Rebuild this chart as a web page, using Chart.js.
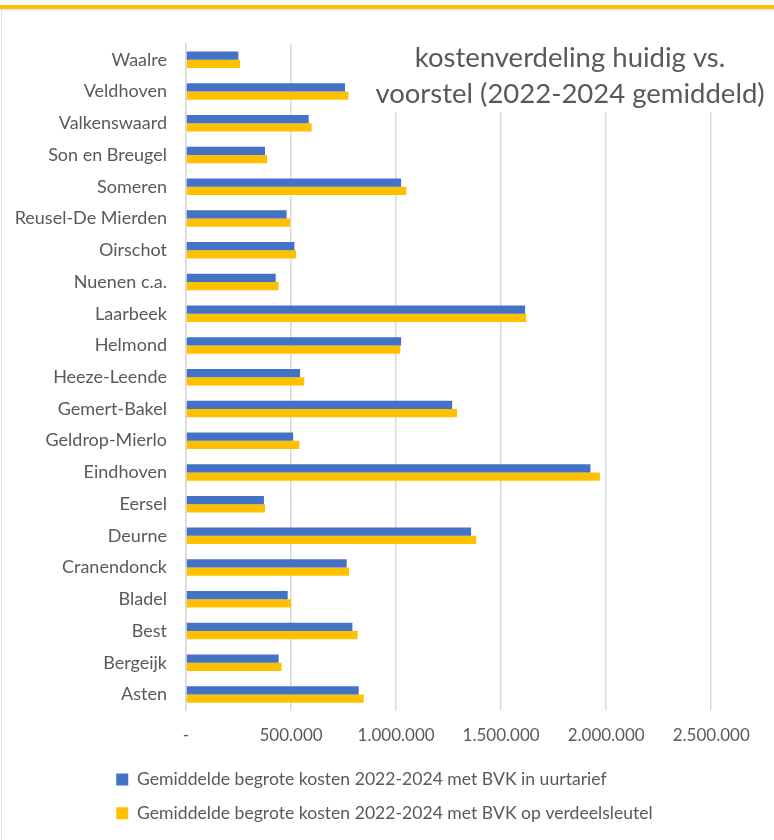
<!DOCTYPE html>
<html>
<head>
<meta charset="utf-8">
<script src="https://cdn.jsdelivr.net/npm/chart.js@4"></script>
<style>
  html, body { margin: 0; padding: 0; background: #fff; }
  #wrap { position: relative; width: 774px; height: 840px; overflow: hidden; }
  #rand { position: absolute; left: 0; top: 5px; width: 774px; height: 4px; background: #ffc000; box-shadow: 0 1px 2px rgba(0,0,0,0.15); }
  #links { position: absolute; left: 1px; top: 9px; width: 1px; height: 831px; background: #e3e3e3; }
  canvas { position: absolute; left: 0; top: 0; }
</style>
</head>
<body>
<div id="wrap">
  <canvas id="grafiek" width="774" height="840"></canvas>
  <div id="rand"></div>
  <div id="links"></div>
</div>
<script>
const gemeenten = [
  'Waalre', 'Veldhoven', 'Valkenswaard', 'Son en Breugel', 'Someren',
  'Reusel-De Mierden', 'Oirschot', 'Nuenen c.a.', 'Laarbeek', 'Helmond',
  'Heeze-Leende', 'Gemert-Bakel', 'Geldrop-Mierlo', 'Eindhoven', 'Eersel',
  'Deurne', 'Cranendonck', 'Bladel', 'Best', 'Bergeijk', 'Asten'
];

const kostenUurtarief = [
  249000, 757000, 584000, 376000, 1024000,
  479000, 516000, 427000, 1614000, 1024000,
  543000, 1267000, 510000, 1925000, 371000,
  1357000, 765000, 484000, 792000, 441000, 822000
];

const kostenVerdeelsleutel = [
  257000, 773000, 598000, 386000, 1049000,
  495000, 524000, 441000, 1619000, 1020000,
  563000, 1290000, 540000, 1970000, 376000,
  1381000, 776000, 500000, 817000, 455000, 846000
];

const reeksNamen = [
  'Gemiddelde begrote kosten 2022-2024 met BVK in uurtarief',
  'Gemiddelde begrote kosten 2022-2024 met BVK op verdeelsleutel'
];

// waarden op de x-as (rechterrand van het plotvlak ligt iets voorbij 2.500.000)
const asWaarden = [0, 500000, 1000000, 1500000, 2000000, 2500000];
const asMax = 2775000;

const titelRegels = ['kostenverdeling huidig vs.', 'voorstel (2022-2024 gemiddeld)'];

const tekstKleur = '#595959';
const lettertype = 'Lato, "Open Sans", sans-serif';

// getal als 1.500.000, nul als '-'
function formatBedrag(v) {
  if (v === 0) return '-';
  return String(Math.round(v)).replace(/\B(?=(\d{3})+(?!\d))/g, '.');
}

// titel rechtsboven in het plotvlak, met wit vlak achter de tekst
const titelPlugin = {
  id: 'titelPlugin',
  beforeDatasetsDraw(chart) {
    const ctx = chart.ctx;
    ctx.save();
    ctx.fillStyle = '#fff';
    ctx.fillRect(372, 30, 402, 82);
    ctx.fillStyle = tekstKleur;
    ctx.font = '27.5px ' + lettertype;
    ctx.textAlign = 'center';
    ctx.textBaseline = 'alphabetic';
    ctx.fillText(titelRegels[0], 570, 67);
    ctx.fillText(titelRegels[1], 570, 103);
    ctx.restore();
  }
};

// beide legendaregels links uitlijnen op dezelfde x
const legendaUitlijnen = {
  id: 'legendaUitlijnen',
  beforeDraw(chart) {
    const lg = chart.legend;
    if (lg && lg.lineWidths) {
      const max = Math.max(...lg.lineWidths);
      lg.lineWidths = lg.lineWidths.map(() => max);
    }
  }
};

new Chart(document.getElementById('grafiek'), {
  type: 'bar',
  data: {
    labels: gemeenten,
    datasets: [
      { label: reeksNamen[0], data: kostenUurtarief, backgroundColor: '#4472c4' },
      { label: reeksNamen[1], data: kostenVerdeelsleutel, backgroundColor: '#ffc000' }
    ]
  },
  options: {
    indexAxis: 'y',
    responsive: false,
    animation: false,
    categoryPercentage: 0.52,
    barPercentage: 1.0,
    layout: { padding: { top: 44, right: 5, left: 0, bottom: 8 } },
    scales: {
      x: {
        min: 0,
        max: asMax,
        afterBuildTicks: scale => {
          scale.ticks = asWaarden.map(v => ({ value: v }));
        },
        afterFit: scale => { scale.height -= 6; },
        ticks: {
          autoSkip: false,
          color: tekstKleur,
          font: { family: lettertype, size: 17 },
          padding: 15,
          callback: v => formatBedrag(v)
        },
        grid: { color: '#d9d9d9', lineWidth: 1.5, tickLength: 0 },
        border: { display: false }
      },
      y: {
        ticks: {
          color: tekstKleur,
          font: { family: lettertype, size: 18 },
          padding: 19
        },
        afterFit: scale => { scale.width = 186; },
        grid: { display: false, drawTicks: false },
        border: { display: true, color: '#d9d9d9', width: 1.5 }
      }
    },
    plugins: {
      legend: {
        position: 'bottom',
        labels: {
          color: tekstKleur,
          font: { family: lettertype, size: 17.6 },
          boxWidth: 12,
          boxHeight: 12,
          padding: 16
        }
      },
      tooltip: { enabled: false }
    }
  },
  plugins: [titelPlugin, legendaUitlijnen]
});
</script>
</body>
</html>
